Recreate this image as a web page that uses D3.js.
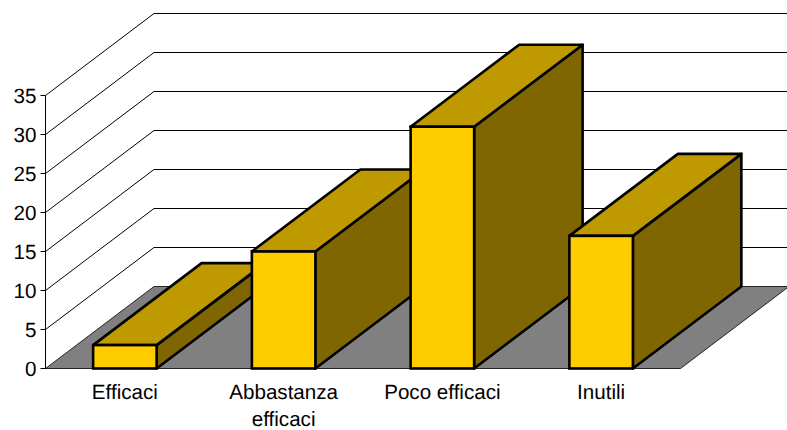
<!DOCTYPE html>
<html><head><meta charset="utf-8">
<script src="https://cdn.jsdelivr.net/npm/d3@7"></script>
<style>html,body{margin:0;padding:0;background:#fff}svg{display:block}text{font-family:"Liberation Sans",Arial,sans-serif;fill:#000;text-rendering:geometricPrecision}</style>
</head><body><svg id="c" width="787" height="430"></svg>
<script>
const categories = [["Efficaci"],["Abbastanza","efficaci"],["Poco efficaci"],["Inutili"]];
const values = [3,15,31,17];
const yTicks = [0,5,10,15,20,25,30,35];

const W=787,H=430, x0=45.5, x1=680.5, y0=368.5, y1=95.5, dx=108.5, dy=-82;
const svg=d3.select("#c");
const x=d3.scaleBand().domain(categories.map((d,i)=>i)).range([x0,x1]).paddingInner(0.6).paddingOuter(0.3);
const y=d3.scaleLinear().domain([0,35]).range([y0,y1]);
const path=p=>"M"+p.map(q=>q.join(",")).join("L")+"Z";
const line=p=>"M"+p.map(q=>q.join(",")).join("L");

// floor
svg.append("path").attr("d",path([[x0,y0],[x0+dx,y0+dy],[W+2,y0+dy],[x1,y0]]))
  .attr("fill","#808080").attr("stroke","#000").attr("stroke-width",0.8);

// wall gridlines
svg.append("g").selectAll("path").data(yTicks.filter(t=>t>0)).join("path")
  .attr("d",t=>line([[x0,y(t)],[x0+dx,y(t)+dy],[W,y(t)+dy]]))
  .attr("fill","none").attr("stroke","#000").attr("stroke-width",1);

// y axis
svg.append("line").attr("x1",x0).attr("x2",x0).attr("y1",y1).attr("y2",y0).attr("stroke","#000");
const yt=svg.append("g").selectAll("g").data(yTicks).join("g");
yt.append("line").attr("x1",x0-5).attr("x2",x0).attr("y1",d=>y(d)).attr("y2",d=>y(d)).attr("stroke","#000");
yt.append("text").attr("x",x0-9).attr("y",d=>y(d)+7).attr("text-anchor","end").attr("font-size",20.6).text(d=>d);

// bars
const bars=svg.append("g").selectAll("g").data(values).join("g");
const sw=2.6;
bars.append("path").attr("d",(v,i)=>{const r=x(i)+x.bandwidth();return path([[r,y0],[r+dx,y0+dy],[r+dx,y(v)+dy],[r,y(v)]]);})
  .attr("fill","#806600").attr("stroke","#000").attr("stroke-width",sw).attr("stroke-linejoin","round");
bars.append("path").attr("d",(v,i)=>{const l=x(i),r=l+x.bandwidth();return path([[l,y(v)],[l+dx,y(v)+dy],[r+dx,y(v)+dy],[r,y(v)]]);})
  .attr("fill","#bf9900").attr("stroke","#000").attr("stroke-width",sw).attr("stroke-linejoin","round");
bars.append("rect").attr("x",(v,i)=>x(i)).attr("width",x.bandwidth()).attr("y",v=>y(v)).attr("height",v=>y0-y(v))
  .attr("fill","#ffcc00").attr("stroke","#000").attr("stroke-width",sw);

// category labels
const cat=svg.append("g").selectAll("text").data(categories).join("text")
  .attr("text-anchor","middle").attr("font-size",20.6)
  .attr("x",(d,i)=>x(i)+x.bandwidth()/2).attr("y",399);
cat.selectAll("tspan").data(d=>d).join("tspan")
  .attr("x",function(){return this.parentNode.getAttribute("x");})
  .attr("dy",(d,i)=>i?27:0).text(d=>d);
</script></body></html>
